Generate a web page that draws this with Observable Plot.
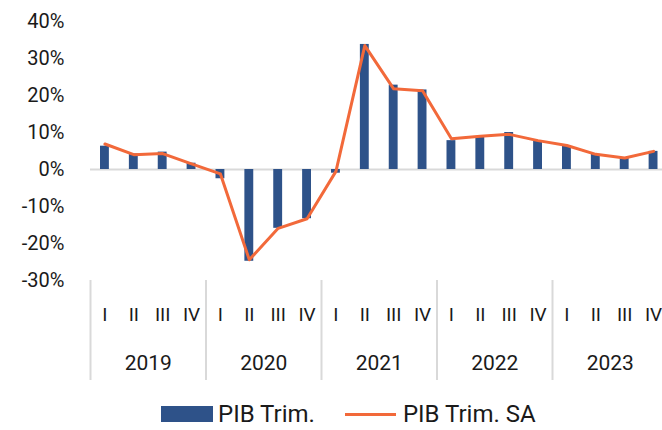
<!DOCTYPE html>
<html>
<head>
<meta charset="utf-8">
<script src="https://cdn.jsdelivr.net/npm/d3@7"></script>
<script src="https://cdn.jsdelivr.net/npm/@observablehq/plot@0.6"></script>
<style>
  html, body { margin: 0; padding: 0; background: #fff; }
  body { width: 662px; height: 430px; overflow: hidden; font-family: Roboto, "Noto Sans", sans-serif; color: #1a1a1a; }
  #legend { position: relative; height: 32px; display: flex; align-items: center; padding-left: 161px; font-size: 24px; }
  .sw { width: 52px; height: 16px; background: #2E5289; margin-right: 5px; }
  .ln { width: 51px; height: 3px; background: #F2693A; margin-left: 30px; margin-right: 7px; }
</style>
</head>
<body>
<div id="chart"></div>
<div id="legend"><div class="sw"></div><span>PIB Trim.</span><div class="ln"></div><span>PIB Trim. SA</span></div>
<script>
const years = ["2019", "2020", "2021", "2022", "2023"];
const quarters = ["I", "II", "III", "IV"];
const pibTrim = [6.3, 4.2, 4.7, 1.7, -2.5, -24.8, -15.9, -13.3, -1.0, 33.8, 22.8, 21.5, 7.8, 8.9, 10.0, 7.8, 6.4, 4.1, 3.1, 4.9];
const pibTrimSA = [6.9, 4.0, 4.3, 1.5, -1.2, -24.4, -15.9, -13.3, -0.5, 33.5, 21.8, 21.3, 8.3, 9.0, 9.5, 7.8, 6.5, 4.1, 3.1, 4.9];
const yTicks = [-30, -20, -10, 0, 10, 20, 30, 40];

const data = pibTrim.map((v, i) => ({
  i, q: quarters[i % 4], year: years[Math.floor(i / 4)], bar: v, sa: pibTrimSA[i]
}));
const nCat = data.length;

const chart = Plot.plot({
  width: 662,
  height: 398,
  marginLeft: 90,
  marginRight: -5.5,
  marginTop: 21,
  marginBottom: 118,
  style: { fontFamily: "Roboto, 'Noto Sans', sans-serif", color: "#1a1a1a", background: "#fff", overflow: "visible" },
  x: { type: "linear", domain: [0, nCat] },
  y: { domain: [-30, 40] },
  marks: [
    Plot.ruleY([0], { stroke: "#d9d9d9", strokeWidth: 2 }),
    Plot.rectY(data, { x1: d => d.i, x2: d => d.i + 1, y: "bar", insetLeft: 10, insetRight: 10, fill: "#2E5289" }),
    Plot.lineY(data, { x: d => d.i + 0.5, y: "sa", stroke: "#F2693A", strokeWidth: 3 }),
    Plot.axisY({ ticks: yTicks, tickFormat: d => d + "%", tickSize: 0, tickPadding: 26, fontSize: 20, label: null }),
    Plot.axisX({ ticks: d3.range(0, nCat + 1, 4), tickFormat: () => "", tickSize: 100, stroke: "#d9d9d9", strokeWidth: 2, label: null }),
    Plot.axisX({ ticks: data.map(d => d.i + 0.5), tickFormat: t => quarters[Math.floor(t) % 4], tickSize: 0, tickPadding: 27, fontSize: 19, label: null }),
    Plot.axisX({ ticks: years.map((y, g) => 4 * g + 2), tickFormat: t => years[(t - 2) / 4], tickSize: 0, tickPadding: 75, fontSize: 21, label: null })
  ]
});
document.getElementById("chart").appendChild(chart);
</script>
</body>
</html>
